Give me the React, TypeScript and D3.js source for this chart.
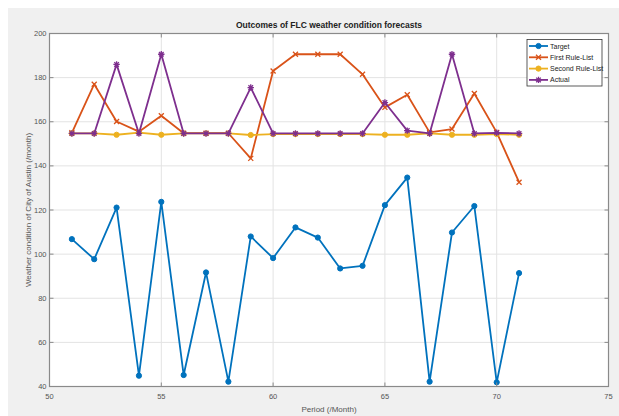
import React from "react";
import * as d3 from "d3";

const periods = [51, 52, 53, 54, 55, 56, 57, 58, 59, 60, 61, 62, 63, 64, 65, 66, 67, 68, 69, 70, 71];
const target = [106.8, 97.7, 121.1, 44.9, 123.7, 45.2, 91.7, 42.2, 108, 98.2, 112.1, 107.5, 93.5, 94.7, 122.2, 134.7, 42.2, 109.8, 121.8, 41.9, 91.4];
const firstRule = [155, 177, 160.1, 155.5, 162.7, 154.8, 154.8, 154.8, 143.4, 183, 190.6, 190.6, 190.6, 181.5, 166.5, 172.2, 155.2, 156.7, 172.8, 155.2, 132.6];
const secondRule = [154.7, 154.7, 154.1, 155.1, 154.1, 154.7, 154.7, 154.7, 154, 154.4, 154.4, 154.4, 154.4, 154.4, 154.1, 154.1, 154.7, 154.1, 154.1, 154.4, 154.1];
const actual = [154.7, 154.7, 186, 154.7, 190.6, 154.7, 154.7, 154.7, 175.5, 154.7, 154.7, 154.7, 154.7, 154.7, 168.7, 156, 154.7, 190.6, 154.7, 155, 154.7];
const xTicks = [50, 55, 60, 65, 70, 75];
const yTicks = [40, 60, 80, 100, 120, 140, 160, 180, 200];
const seriesNames = ["Target", "First Rule-List", "Second Rule-List", "Actual"];
const title = "Outcomes of FLC weather condition forecasts";
const xLabel = "Period (/Month)";
const yLabel = "Weather condition of City of Austin (/month)";

const colors = ["#0072BD", "#D95319", "#EDB120", "#7E2F8E"];
const markers = ["o", "x", "o", "*"];

const W = 619, H = 416;
const L = 49.5, R = 608.5, T = 33.5, B = 386.5;
const FONT = "'Liberation Sans', Arial, sans-serif";

function Marker({ type, x, y, color }: { type: string; x: number; y: number; color: string }) {
  if (type === "o") return <circle cx={x} cy={y} r={2.6} fill={color} stroke={color} strokeWidth={1} />;
  if (type === "x")
    return (
      <path d={`M${x - 2.5},${y - 2.5}L${x + 2.5},${y + 2.5}M${x - 2.5},${y + 2.5}L${x + 2.5},${y - 2.5}`} stroke={color} strokeWidth={1.3} />
    );
  return (
    <path
      d={`M${x},${y - 3.2}L${x},${y + 3.2}M${x - 3.2},${y}L${x + 3.2},${y}M${x - 2.3},${y - 2.3}L${x + 2.3},${y + 2.3}M${x - 2.3},${y + 2.3}L${x + 2.3},${y - 2.3}`}
      stroke={color}
      strokeWidth={1.3}
    />
  );
}

export default function App() {
  const x = d3.scaleLinear().domain([50, 75]).range([L, R]);
  const y = d3.scaleLinear().domain([40, 200]).range([B, T]);
  const all = [target, firstRule, secondRule, actual];
  const line = d3
    .line<number>()
    .x((_, i) => x(periods[i]))
    .y((d) => y(d));

  const legX = 527, legY = 39.5, legW = 75, legH = 46.5;

  return (
    <svg width={W} height={H} style={{ position: "absolute", left: 0, top: 0 }}>
      <rect x={8} y={8} width={W - 8} height={H - 8} fill="#f0f0f0" />
      <rect x={L} y={T} width={R - L} height={B - T} fill="#ffffff" />
      {xTicks.slice(1, -1).map((t) => (
        <line key={"gx" + t} x1={x(t)} x2={x(t)} y1={T} y2={B} stroke="#e3e3e3" strokeWidth={1} />
      ))}
      {yTicks.slice(1, -1).map((t) => (
        <line key={"gy" + t} x1={L} x2={R} y1={y(t)} y2={y(t)} stroke="#e3e3e3" strokeWidth={1} />
      ))}
      {all.map((s, k) => (
        <g key={"s" + k}>
          <path d={line(s) || ""} fill="none" stroke={colors[k]} strokeWidth={1.8} strokeLinejoin="round" />
          {s.map((v, i) => (
            <Marker key={i} type={markers[k]} x={x(periods[i])} y={y(v)} color={colors[k]} />
          ))}
        </g>
      ))}
      <rect x={L} y={T} width={R - L} height={B - T} fill="none" stroke="#8a8a8a" strokeWidth={1.2} />
      {xTicks.map((t) => (
        <g key={"tx" + t}>
          <line x1={x(t)} x2={x(t)} y1={B} y2={B - 4} stroke="#8a8a8a" />
          <line x1={x(t)} x2={x(t)} y1={T} y2={T + 4} stroke="#8a8a8a" />
          <text x={x(t)} y={B + 12} fontSize={7.5} fill="#555" textAnchor="middle" fontFamily={FONT}>
            {t}
          </text>
        </g>
      ))}
      {yTicks.map((t) => (
        <g key={"ty" + t}>
          <line x1={L} x2={L + 4} y1={y(t)} y2={y(t)} stroke="#8a8a8a" />
          <line x1={R} x2={R - 4} y1={y(t)} y2={y(t)} stroke="#8a8a8a" />
          <text x={L - 3} y={y(t) + 2.5} fontSize={7.5} fill="#555" textAnchor="end" fontFamily={FONT}>
            {t}
          </text>
        </g>
      ))}
      <text x={(L + R) / 2} y={28} fontSize={8.5} fontWeight="bold" fill="#222" textAnchor="middle" fontFamily={FONT}>
        {title}
      </text>
      <text x={(L + R) / 2} y={412} fontSize={8} fill="#555" textAnchor="middle" fontFamily={FONT}>
        {xLabel}
      </text>
      <text
        transform={`translate(31,${(T + B) / 2}) rotate(-90)`}
        fontSize={8}
        fill="#555"
        textAnchor="middle"
        fontFamily={FONT}
      >
        {yLabel}
      </text>
      <rect x={legX} y={legY} width={legW} height={legH} fill="#fff" stroke="#333" strokeWidth={0.8} />
      {seriesNames.map((n, k) => {
        const ly = legY + 6.5 + k * 11.3;
        return (
          <g key={"l" + k}>
            <line x1={legX + 2} x2={legX + 21} y1={ly} y2={ly} stroke={colors[k]} strokeWidth={1.8} />
            <Marker type={markers[k]} x={legX + 11.5} y={ly} color={colors[k]} />
            <text x={legX + 23} y={ly + 2.5} fontSize={7} fill="#222" fontFamily={FONT}>
              {n}
            </text>
          </g>
        );
      })}
    </svg>
  );
}
